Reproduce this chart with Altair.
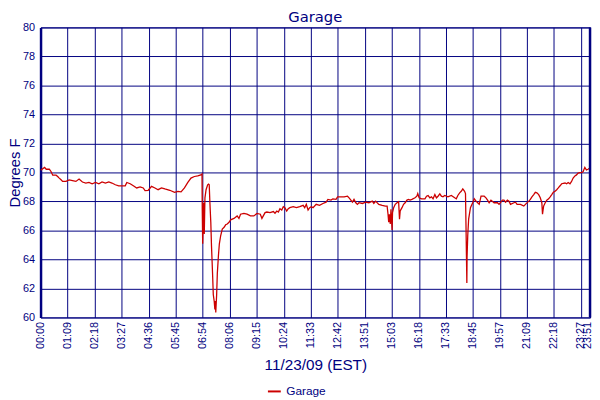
import altair as alt
import pandas as pd

# ---------------- data ----------------
chart_title = "Garage"
series_name = "Garage"
x_title = "11/23/09 (EST)"
y_title = "Degrees F"

tick_labels = ["00:00", "01:09", "02:18", "03:27", "04:36", "05:45", "06:54",
               "08:06", "09:15", "10:24", "11:33", "12:42", "13:51", "15:03",
               "16:18", "17:33", "18:45", "19:57", "21:09", "22:18", "23:27",
               "23:51"]
tick_positions = [0, 12, 24, 36, 48, 60, 72, 84, 96, 108, 120, 132, 144, 156,
                  168, 180, 192, 204, 216, 228, 240, 244]
y_ticks = [60, 62, 64, 66, 68, 70, 72, 74, 76, 78, 80]

sample_index = [
    0.0, 1.8, 2.5, 3.9, 4.7, 5.4, 6.9, 7.6, 8.3, 9.1, 9.8, 11.3, 12.7, 14.2,
    15.7, 17.1, 18.6, 20.1, 21.5, 22.9, 24.4, 25.9, 27.3, 28.8, 30.3, 31.7,
    33.2, 34.7, 36.1, 37.6, 38.3, 39.8, 41.2, 42.7, 44.2, 45.6, 46.4, 47.8,
    49.3, 50.8, 52.2, 53.7, 55.2, 57.4, 59.5, 61.0, 62.4, 63.9, 65.4, 66.8,
    68.3, 69.8, 71.2, 71.7, 71.8, 72.0, 72.4, 72.7, 73.0, 73.5, 74.2, 74.6,
    74.9, 75.2, 75.6, 75.9, 76.4, 76.7, 77.1, 77.4, 77.7, 77.8, 78.2, 78.5,
    79.0, 79.4, 80.0, 80.7, 81.5, 82.2, 82.9, 83.7, 84.4, 85.9, 87.3, 88.1,
    88.8, 90.3, 91.7, 93.2, 94.7, 96.1, 97.6, 98.3, 99.7, 100.5, 101.9, 103.4,
    104.1, 104.9, 105.6, 106.3, 107.1, 107.8, 108.5, 109.3, 110.0, 110.7,
    112.2, 113.6, 115.1, 116.6, 117.3, 118.0, 118.8, 119.5, 120.2, 121.0,
    122.4, 123.9, 125.4, 126.8, 127.6, 129.0, 129.8, 131.2, 131.9, 133.4,
    134.8, 136.3, 137.0, 137.8, 138.5, 139.2, 140.0, 140.7, 141.4, 142.9,
    144.4, 145.8, 147.3, 148.0, 148.8, 150.2, 151.7, 153.1, 153.9, 154.3,
    154.6, 154.9, 155.3, 155.6, 156.1, 156.3, 156.8, 157.5, 158.3, 159.0,
    159.4, 159.7, 160.5, 161.2, 161.9, 162.7, 163.4, 164.1, 164.9, 166.3,
    167.1, 167.5, 168.1, 169.2, 170.7, 171.4, 172.1, 172.9, 173.6, 174.3,
    175.1, 175.8, 176.5, 177.3, 178.0, 178.7, 179.5, 180.9, 182.4, 183.9,
    184.6, 185.3, 186.1, 186.8, 187.5, 188.3, 188.7, 189.0, 189.3, 189.4,
    189.7, 190.1, 190.9, 191.9, 192.6, 193.4, 194.1, 194.8, 195.6, 197.0,
    197.8, 198.5, 199.2, 200.0, 201.4, 202.9, 203.6, 205.1, 205.8, 206.5,
    207.3, 208.0, 208.7, 210.2, 210.9, 211.6, 213.1, 214.6, 215.3, 216.8,
    217.5, 218.2, 219.0, 219.7, 220.4, 221.2, 221.9, 222.6, 222.9, 223.2,
    223.4, 224.1, 224.8, 225.6, 226.3, 227.0, 227.7, 228.5, 229.2, 229.9,
    230.7, 231.4, 232.9, 233.6, 234.3, 235.1, 235.8, 236.5, 237.3, 238.0,
    238.7, 239.5, 240.2, 240.9, 241.7, 242.4, 243.1, 243.8, 244.0,
]

temps_f = [
    70.15, 70.35, 70.22, 70.22, 70.05, 69.81, 69.81, 69.72, 69.61, 69.49,
    69.38, 69.38, 69.49, 69.44, 69.38, 69.54, 69.34, 69.27, 69.31, 69.22,
    69.31, 69.22, 69.34, 69.27, 69.34, 69.27, 69.15, 69.08, 69.08, 69.08,
    69.31, 69.22, 69.08, 68.93, 69.00, 68.93, 68.75, 68.77, 69.04, 68.93,
    68.81, 68.93, 68.86, 68.77, 68.63, 68.70, 68.66, 68.93, 69.31, 69.61,
    69.72, 69.76, 69.83, 69.90, 67.46, 65.08, 67.91, 65.76, 68.25, 68.81,
    69.15, 69.20, 69.15, 67.91, 66.56, 64.97, 62.94, 61.58, 61.13, 60.56,
    61.13, 60.34, 61.58, 63.05, 64.29, 65.08, 65.65, 66.10, 66.22, 66.39,
    66.44, 66.56, 66.73, 66.83, 67.00, 66.83, 67.12, 67.17, 67.12, 67.00,
    67.00, 67.17, 67.12, 66.83, 67.23, 67.27, 67.23, 67.30, 67.19, 67.34,
    67.27, 67.50, 67.41, 67.64, 67.57, 67.34, 67.50, 67.57, 67.64, 67.57,
    67.64, 67.73, 67.57, 67.80, 67.41, 67.57, 67.64, 67.57, 67.80, 67.73,
    67.86, 67.95, 68.14, 68.09, 68.18, 68.14, 68.32, 68.32, 68.32, 68.36,
    68.25, 68.09, 67.95, 68.14, 67.91, 67.80, 67.91, 67.86, 67.95, 67.91,
    68.02, 67.86, 68.02, 67.80, 67.73, 67.68, 67.68, 67.12, 66.56, 67.12,
    66.44, 67.46, 66.03, 67.23, 67.57, 67.80, 67.91, 67.98, 66.78, 67.34,
    67.57, 67.80, 67.91, 68.09, 68.14, 68.09, 68.14, 68.25, 68.36, 68.54,
    68.25, 68.18, 68.18, 68.36, 68.41, 68.25, 68.32, 68.18, 68.47, 68.25,
    68.36, 68.52, 68.36, 68.32, 68.41, 68.32, 68.41, 68.25, 68.18, 68.41,
    68.59, 68.70, 68.86, 68.70, 68.54, 65.54, 62.37, 64.18, 65.65, 66.78,
    67.57, 67.91, 68.18, 68.02, 67.91, 67.80, 68.36, 68.36, 68.25, 68.09,
    67.91, 68.09, 67.91, 67.91, 67.80, 68.09, 68.09, 67.95, 68.09, 68.02,
    67.80, 67.91, 67.95, 67.80, 67.80, 67.68, 67.80, 68.02, 68.14, 68.32,
    68.47, 68.63, 68.59, 68.47, 68.25, 67.91, 67.12, 67.46, 67.68, 67.91,
    68.09, 68.18, 68.32, 68.47, 68.63, 68.70, 68.81, 68.93, 69.08, 69.22,
    69.27, 69.22, 69.31, 69.22, 69.38, 69.61, 69.76, 69.83, 69.95, 69.99,
    69.99, 70.05, 70.35, 70.17, 70.22, 70.29, 70.22,
]

# ---------------- chart ----------------
NAVY = "#000080"
RED = "#CC0000"
x_end = tick_positions[-1]

df = pd.DataFrame({"sample": sample_index, "temp": temps_f})
df["series"] = series_name
edge_df = pd.DataFrame({"sample": [x_end]})

label_array = "[" + ",".join("'" + t + "'" for t in tick_labels) + "]"
pos_array = "[" + ",".join(str(p) for p in tick_positions) + "]"
label_expr = label_array + "[indexof(" + pos_array + ", datum.value)]"

line = alt.Chart(df).mark_line(strokeWidth=1.3, clip=True).encode(
    x=alt.X(
        "sample:Q",
        scale=alt.Scale(domain=[0, x_end], nice=False, zero=False),
        axis=alt.Axis(
            values=tick_positions, tickCount=40, labelExpr=label_expr,
            labelAngle=270, labelOverlap=False, labelFlush=False, grid=True,
            labelBaseline={"condition": {"test": "datum.value == " + str(x_end),
                                         "value": "alphabetic"},
                           "value": "middle"},
            gridColor=NAVY, gridWidth=1, gridOpacity=1, ticks=False,
            domain=False, labelColor=NAVY, labelFont="Liberation Sans",
            labelFontSize=11, labelPadding=4, title=x_title, titleColor=NAVY,
            titleFont="Liberation Sans", titleFontSize=15.5,
            titleFontWeight="normal", titleY=53, titleBaseline="alphabetic",
        ),
    ),
    y=alt.Y(
        "temp:Q",
        scale=alt.Scale(domain=[60, 80], nice=False, zero=False),
        axis=alt.Axis(
            values=y_ticks, tickCount=40, format="d", grid=True,
            gridColor=NAVY, gridWidth=1, gridOpacity=1, ticks=False,
            domain=True, domainColor=NAVY, domainWidth=2.5, labelColor=NAVY,
            labelFont="Liberation Sans", labelFontSize=11, labelPadding=6,
            title=y_title, titleColor=NAVY, titleFont="Liberation Sans",
            titleFontSize=15, titleFontWeight="normal", titleX=-26,
            titleY=147, titleAngle=270, titleAlign="center",
            titleBaseline="middle",
        ),
    ),
    color=alt.Color(
        "series:N",
        scale=alt.Scale(domain=[series_name], range=[RED]),
        legend=alt.Legend(
            title=None, orient="none", legendX=229, legendY=361,
            symbolType="stroke", symbolSize=170, symbolStrokeWidth=2,
            labelColor=NAVY, labelFont="Liberation Sans", labelFontSize=12,
            labelOffset=4, padding=0,
        ),
    ),
)

edge = alt.Chart(edge_df).mark_rule(color=NAVY, strokeWidth=2.5).encode(
    x=alt.X("sample:Q")
)

chart = alt.layer(line, edge).properties(
    width=557,
    height=294,
    title=alt.TitleParams(
        text=chart_title, color=NAVY, font="DejaVu Sans", fontSize=15,
        fontWeight="normal", anchor="middle", frame="group", offset=5, dy=8,
    ),
    autosize=alt.AutoSizeParams(type="none"),
    padding={"left": 33, "top": 17, "right": 2, "bottom": 81},
    background="white",
).configure_view(stroke=NAVY, strokeWidth=1)

chart.save("out.html", embed_options={"renderer": "svg", "actions": False})
